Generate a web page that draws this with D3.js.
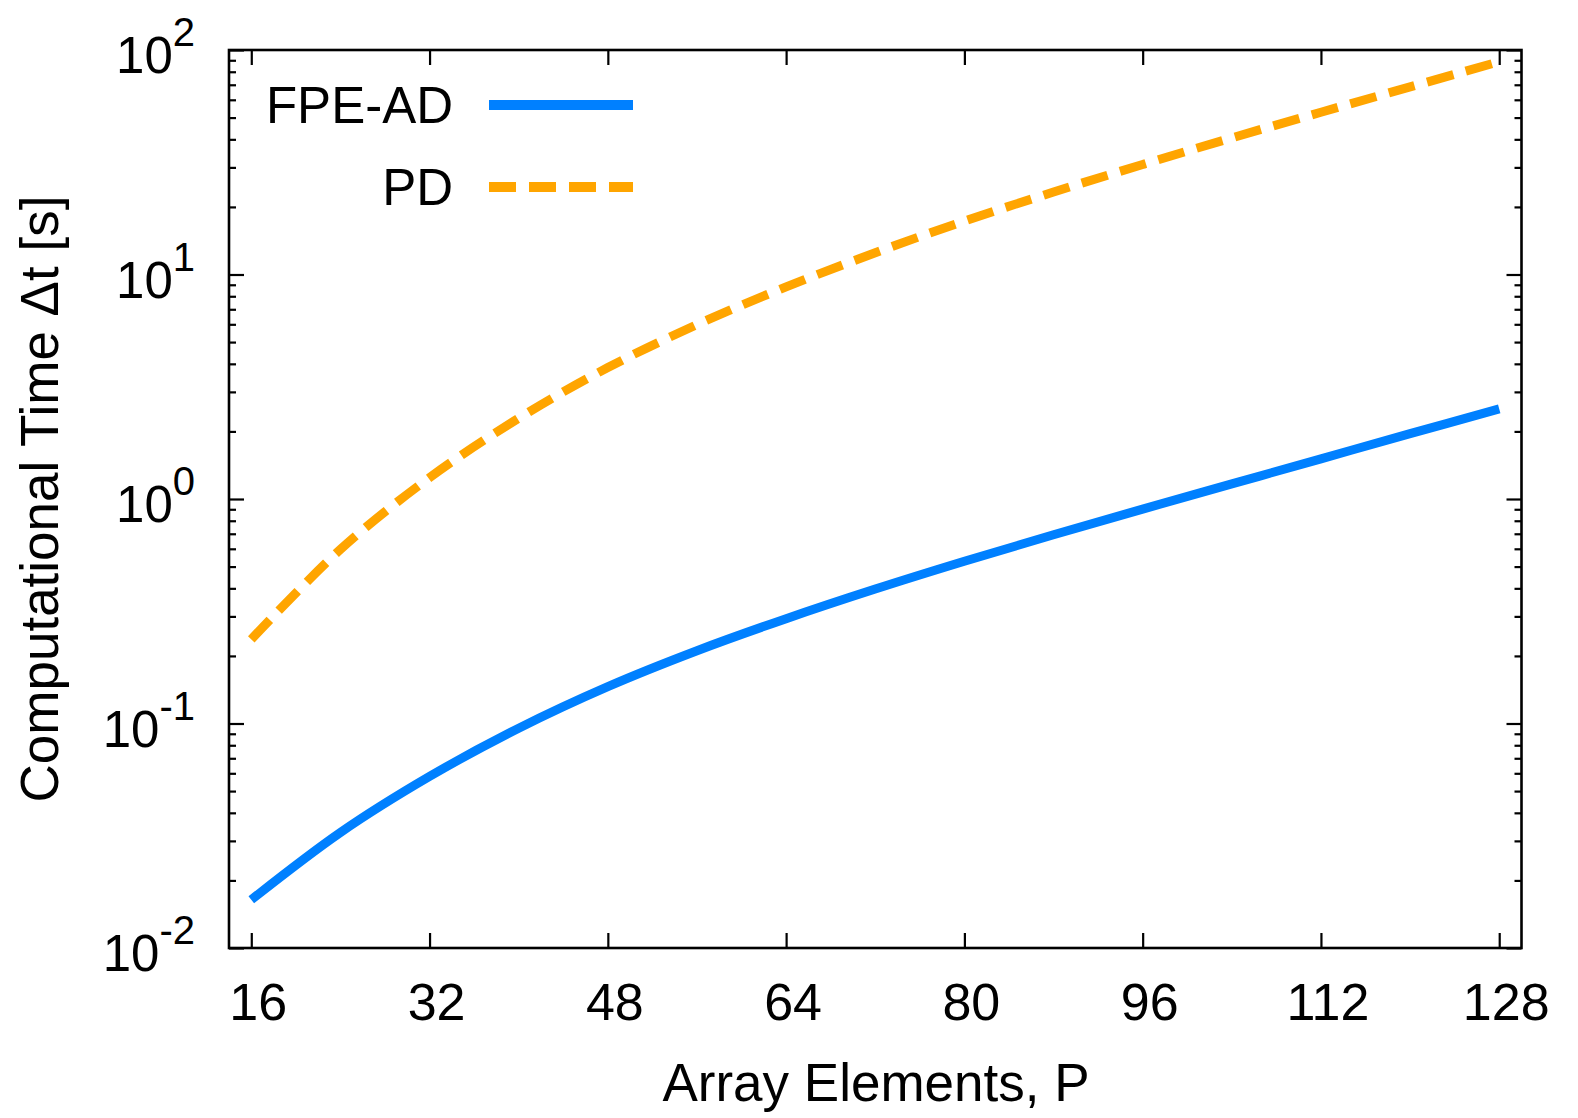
<!DOCTYPE html>
<html>
<head>
<meta charset="utf-8">
<script src="https://cdn.jsdelivr.net/npm/d3@7"></script>
<style>
  html, body { margin: 0; padding: 0; background: #fff; }
  svg { display: block; font-family: "Liberation Sans", Arial, Helvetica, sans-serif; }
</style>
</head>
<body>
<svg id="chart" width="1578" height="1118"></svg>
<script>
// ---- data ----
const P = [16, 24, 32, 40, 48, 56, 64, 72, 80, 88, 96, 104, 112, 120, 128];
const fpeAD = [0.0164, 0.0327, 0.0581, 0.0953, 0.146, 0.211, 0.293, 0.397, 0.528, 0.693, 0.902, 1.167, 1.51, 1.954, 2.52];
const pd    = [0.237, 0.596, 1.245, 2.29, 3.85, 5.98, 8.81, 12.5, 17.3, 23.3, 30.9, 40.6, 52.8, 68.5, 88.7];
const xTicks = [16, 32, 48, 64, 80, 96, 112, 128];
const yDecades = [-2, -1, 0, 1, 2];
const seriesNames = ["FPE-AD", "PD"];

const svg = d3.select("#chart");
const L = 229, R = 1521.5, T = 50, B = 948;

const x = d3.scaleLinear().domain([14, 130]).range([L, R]);
const y = d3.scaleLog().domain([0.01, 100]).range([B, T]);

// minor ticks
const minor = [];
for (let e = -2; e < 2; e++) for (let k = 2; k <= 9; k++) minor.push(k * Math.pow(10, e));
const major = yDecades.map(e => Math.pow(10, e));

const axisG = svg.append("g");
const tickStyle = g => { g.select(".domain").remove(); g.selectAll("line").attr("stroke", "#000").attr("stroke-width", 2.2); g.selectAll("text").remove(); };

// bottom & top x ticks (inward)
axisG.append("g").attr("transform", `translate(0,${B})`)
  .call(d3.axisBottom(x).tickValues(xTicks).tickSize(-15)).call(tickStyle);
axisG.append("g").attr("transform", `translate(0,${T})`)
  .call(d3.axisTop(x).tickValues(xTicks).tickSize(-15)).call(tickStyle);
// left & right y ticks
axisG.append("g").attr("transform", `translate(${L},0)`)
  .call(d3.axisLeft(y).tickValues(major).tickSize(-15)).call(tickStyle);
axisG.append("g").attr("transform", `translate(${L},0)`)
  .call(d3.axisLeft(y).tickValues(minor).tickSize(-7)).call(tickStyle);
axisG.append("g").attr("transform", `translate(${R},0)`)
  .call(d3.axisRight(y).tickValues(major).tickSize(-15)).call(tickStyle);
axisG.append("g").attr("transform", `translate(${R},0)`)
  .call(d3.axisRight(y).tickValues(minor).tickSize(-7)).call(tickStyle);

// lines
const line = d3.line().x((d, i) => x(P[i])).y(d => y(d)).curve(d3.curveCatmullRom.alpha(0.5));
svg.append("path").datum(fpeAD).attr("d", line)
  .attr("fill", "none").attr("stroke", "#0080ff").attr("stroke-width", 9);
svg.append("path").datum(pd).attr("d", line)
  .attr("fill", "none").attr("stroke", "#ffa500").attr("stroke-width", 9)
  .attr("stroke-dasharray", "27,13");

// frame
svg.append("rect").attr("x", L).attr("y", T).attr("width", R - L).attr("height", B - T)
  .attr("fill", "none").attr("stroke", "#000").attr("stroke-width", 2.6);

// x tick labels
svg.append("g").selectAll("text").data(xTicks).join("text")
  .attr("x", d => x(d) + 7).attr("y", 1020)
  .attr("text-anchor", "middle").attr("font-size", 52).text(d => d);

// y tick labels
const yl = svg.append("g").selectAll("text").data(yDecades).join("text")
  .attr("x", 195).attr("y", d => y(Math.pow(10, d)) + 23)
  .attr("text-anchor", "end").attr("font-size", 51);
yl.append("tspan").text("10");
yl.append("tspan").attr("dy", -27).attr("font-size", 40).text(d => String(d));

// axis titles
svg.append("text").attr("x", 876).attr("y", 1101).attr("text-anchor", "middle")
  .attr("font-size", 53).text("Array Elements, P");
svg.append("text").attr("transform", `translate(58,${(T + B) / 2}) rotate(-90)`)
  .attr("text-anchor", "middle").attr("font-size", 53).text("Computational Time \u0394t [s]");

// legend
const legY = [105, 187];
const legColors = ["#0080ff", "#ffa500"];
const legDash = [null, "27,13"];
seriesNames.forEach((name, i) => {
  svg.append("text").attr("x", 453).attr("y", legY[i] + 18.3).attr("text-anchor", "end")
    .attr("font-size", 51).text(name);
  svg.append("line").attr("x1", 489).attr("x2", 633).attr("y1", legY[i]).attr("y2", legY[i])
    .attr("stroke", legColors[i]).attr("stroke-width", 10)
    .attr("stroke-dasharray", legDash[i]);
});
</script>
</body>
</html>
